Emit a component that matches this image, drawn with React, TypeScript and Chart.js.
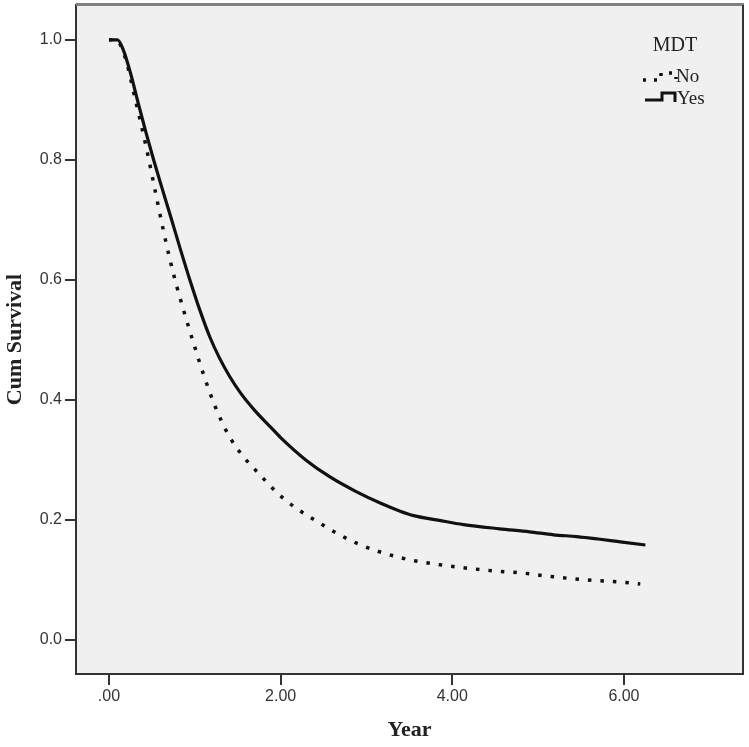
import React, { useEffect, useRef } from "react";
import { Chart, registerables } from "chart.js";

Chart.register(...registerables);

const yesX = [0, 0.1, 0.17, 0.25, 0.34, 0.43, 0.52, 0.62, 0.73, 0.83, 0.94, 1.06, 1.18, 1.29, 1.41, 1.53, 1.7, 1.88, 2.0, 2.3, 2.58, 2.88, 3.16, 3.4, 3.55, 3.85, 4.13, 4.55, 4.9, 5.18, 5.45, 5.7, 5.92, 6.25];
const yesY = [1.0, 1.0, 0.982, 0.945, 0.895, 0.846, 0.8, 0.752, 0.7, 0.652, 0.601, 0.549, 0.503, 0.469, 0.438, 0.412, 0.382, 0.355, 0.337, 0.299, 0.271, 0.247, 0.228, 0.214, 0.207, 0.199, 0.192, 0.185, 0.18, 0.175, 0.172, 0.168, 0.164, 0.158];

const noX = [0, 0.08, 0.186, 0.3, 0.44, 0.536, 0.633, 0.71, 0.79, 0.866, 0.98, 1.1, 1.215, 1.31, 1.41, 1.55, 1.7, 2.03, 2.46, 2.886, 3.39, 3.856, 4.4, 4.905, 5.06, 5.546, 6.01, 6.19];
const noY = [1.0, 1.0, 0.972, 0.905, 0.817, 0.75, 0.683, 0.634, 0.589, 0.551, 0.497, 0.443, 0.397, 0.365, 0.337, 0.308, 0.284, 0.236, 0.194, 0.161, 0.137, 0.125, 0.116, 0.11, 0.107, 0.1, 0.0956, 0.093];

const xTicks = [0, 2, 4, 6];
const yTicks = [0, 0.2, 0.4, 0.6, 0.8, 1.0];

const legendTitle = "MDT";
const seriesNames = ["No", "Yes"];

const frameAndLegend = {
  id: "frameAndLegend",
  beforeDraw(chart: any) {
    const { ctx, chartArea: a } = chart;
    ctx.save();
    ctx.fillStyle = "#f0f0f0";
    ctx.fillRect(a.left, a.top, a.right - a.left, a.bottom - a.top);
    ctx.restore();
  },
  afterDraw(chart: any) {
    const { ctx, chartArea: a } = chart;
    ctx.save();
    ctx.strokeStyle = "#808080";
    ctx.lineWidth = 3;
    ctx.beginPath();
    ctx.moveTo(a.left, a.top - 0.5);
    ctx.lineTo(a.right + 1, a.top - 0.5);
    ctx.stroke();
    ctx.strokeStyle = "#333";
    ctx.lineWidth = 2;
    ctx.beginPath();
    ctx.moveTo(a.right, a.top);
    ctx.lineTo(a.right, a.bottom);
    ctx.stroke();

    // legend
    ctx.fillStyle = "#222";
    ctx.font = '20px "Liberation Serif"';
    ctx.textAlign = "center";
    ctx.textBaseline = "middle";
    ctx.fillText(legendTitle, 675, 46);
    ctx.font = '19px "Liberation Serif"';
    ctx.textAlign = "left";
    ctx.fillText(seriesNames[0], 676, 77);
    ctx.fillText(seriesNames[1], 677, 99);

    ctx.strokeStyle = "#111";
    ctx.lineWidth = 3.5;
    ctx.setLineDash([3, 8]);
    ctx.beginPath();
    ctx.moveTo(643, 80);
    ctx.lineTo(661, 80);
    ctx.lineTo(661, 73);
    ctx.lineTo(676, 73);
    ctx.lineTo(676, 79);
    ctx.stroke();
    ctx.setLineDash([]);
    ctx.lineWidth = 3;
    ctx.beginPath();
    ctx.moveTo(645, 100);
    ctx.lineTo(662, 100);
    ctx.lineTo(662, 93);
    ctx.lineTo(675, 93);
    ctx.lineTo(675, 102);
    ctx.stroke();
    ctx.restore();
  },
};

export default function App() {
  const ref = useRef<HTMLCanvasElement>(null);
  useEffect(() => {
    if (!ref.current) return;
    const chart = new Chart(ref.current, {
      type: "line",
      data: {
        datasets: [
          {
            label: seriesNames[0],
            data: noX.map((x, i) => ({ x, y: noY[i] })),
            borderColor: "#111",
            borderWidth: 3.5,
            borderDash: [3.5, 9],
            pointRadius: 0,
            cubicInterpolationMode: "monotone",
            fill: false,
          },
          {
            label: seriesNames[1],
            data: yesX.map((x, i) => ({ x, y: yesY[i] })),
            borderColor: "#111",
            borderWidth: 3.2,
            pointRadius: 0,
            cubicInterpolationMode: "monotone",
            fill: false,
          },
        ],
      },
      options: {
        animation: false,
        responsive: false,
        layout: { padding: { top: 5, right: 6, left: 0, bottom: 0 } },
        plugins: { legend: { display: false }, tooltip: { enabled: false } },
        scales: {
          x: {
            type: "linear",
            min: -0.384,
            max: 7.387,
            afterBuildTicks: (s: any) => {
              s.ticks = xTicks.map((value) => ({ value }));
            },
            afterFit: (s: any) => {
              s.height = 73;
              s.paddingLeft = 0;
              s.paddingRight = 0;
            },
            ticks: {
              callback: (v: any) => (Number(v) === 0 ? ".00" : Number(v).toFixed(2)),
              color: "#333",
              font: { family: "Liberation Sans", size: 16 },
              padding: 2,
              maxRotation: 0,
              autoSkip: false,
            },
            grid: { drawOnChartArea: false, drawTicks: true, tickLength: 11, color: "#333", lineWidth: 2 },
            border: { display: true, color: "#333", width: 2 },
            title: {
              display: true,
              text: "Year",
              color: "#222",
              font: { family: "Liberation Serif", size: 22, weight: "bold" },
              padding: { top: 0, bottom: 3 },
            },
          },
          y: {
            type: "linear",
            min: -0.057,
            max: 1.058,
            afterBuildTicks: (s: any) => {
              s.ticks = yTicks.map((value) => ({ value }));
            },
            afterFit: (s: any) => {
              s.width = 76;
              s.paddingTop = 0;
              s.paddingBottom = 0;
            },
            ticks: {
              callback: (v: any) => Number(v).toFixed(1),
              color: "#333",
              font: { family: "Liberation Sans", size: 16 },
              padding: 3,
              autoSkip: false,
            },
            grid: { drawOnChartArea: false, drawTicks: true, tickLength: 11, color: "#333", lineWidth: 2 },
            border: { display: true, color: "#333", width: 2 },
            title: {
              display: true,
              text: "Cum Survival",
              color: "#222",
              font: { family: "Liberation Serif", size: 22, weight: "bold" },
              padding: { top: 2, bottom: 0 },
            },
          },
        },
      },
      plugins: [frameAndLegend],
    });
    return () => chart.destroy();
  }, []);
  return (
    <div style={{ position: "absolute", left: 0, top: 0, width: 749, height: 747 }}>
      <canvas ref={ref} width={749} height={747} style={{ display: "block" }} />
    </div>
  );
}
